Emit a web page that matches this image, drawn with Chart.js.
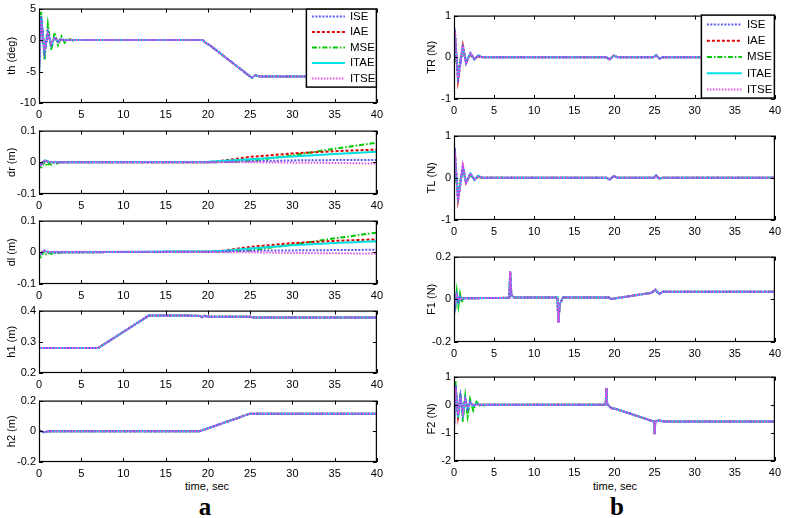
<!DOCTYPE html>
<html>
<head>
<meta charset="utf-8">
<script src="https://cdn.jsdelivr.net/npm/chart.js@4.4.0/dist/chart.umd.min.js"></script>
<style>
  body { margin: 0; background: #fff; width: 785px; height: 518px; position: relative; overflow: hidden;
         font-family: 'Liberation Sans', Arial, sans-serif; }
  canvas { position: absolute; }
  .xt { position: absolute; font-size: 11px; color: #000; transform: translate(-50%, -50%); white-space: nowrap; }
  .tag { position: absolute; font: bold 25px 'Liberation Serif', serif; color: #000; transform: translate(-50%, -50%); }
</style>
</head>
<body>
<div class="xt" style="left:207px; top:486px;">time, sec</div>
<div class="xt" style="left:615px; top:486px;">time, sec</div>
<div class="tag" style="left:205px; top:507px;">a</div>
<div class="tag" style="left:617px; top:507px;">b</div>
<script>
// ---- series names ----
const names = ['ISE', 'IAE', 'MSE', 'ITAE', 'ITSE'];

// ---- th (deg) ----
const thT0    = [0, 0.25, 0.65, 1.05, 1.45, 1.85, 2.25, 2.65, 3.05, 3.45, 4.0, 4.5];
const thISE0  = [-5.5, 3.8, -2.0, 1.3, -0.8, 0.5, -0.3, 0.2, -0.1, 0, 0, 0];
const thIAE0  = [-5.2, 3.4, -1.8, 1.1, -0.6, 0.4, -0.2, 0.1, 0, 0, 0, 0];
const thMSE0  = [-1.0, 4.5, -3.2, 2.5, -1.6, 1.2, -0.8, 0.6, -0.4, 0.3, -0.1, 0];
const thITAE0 = [-5.4, 3.7, -1.9, 1.2, -0.7, 0.4, -0.2, 0.1, 0, 0, 0, 0];
const thITSE0 = [-4.8, 3.2, -1.6, 0.9, -0.5, 0.3, -0.1, 0, 0, 0, 0, 0];
const thT1    = [19.4, 19.7, 20.3, 25.2, 25.6, 26.2, 40];
const thTail  = [0, -0.4, -0.9, -6.0, -5.6, -5.8, -5.8];

// ---- dr (m) ----
const drT0    = [0, 0.2, 0.45, 0.7, 0.95, 1.2, 1.45, 1.7, 2.0, 2.5];
const drISE0  = [0, -0.008, 0, 0.006, 0.004, 0, 0.001, 0, 0, 0];
const drIAE0  = [0, -0.007, 0, 0.005, 0.003, 0, 0.001, 0, 0, 0];
const drMSE0  = [0, -0.02, -0.01, 0.002, -0.012, -0.003, -0.008, -0.002, -0.005, 0];
const drITAE0 = [0, -0.009, -0.002, 0.006, 0.004, 0.001, 0, 0, 0, 0];
const drITSE0 = [0, -0.01, -0.004, 0.005, 0.003, 0.001, 0, 0, 0, 0];
const drT1    = [20, 22, 25, 30, 35, 40];
const drISE1  = [0, 0.001, 0.003, 0.006, 0.007, 0.007];
const drIAE1  = [0, 0.006, 0.017, 0.028, 0.035, 0.040];
const drMSE1  = [0, 0.001, 0.004, 0.022, 0.043, 0.062];
const drITAE1 = [0.002, 0.005, 0.010, 0.018, 0.026, 0.033];
const drITSE1 = [0, 0, 0, -0.001, -0.002, -0.004];

// ---- dl (m) ----
const dlT0    = [0, 0.15, 0.4, 0.65, 0.9, 1.2, 1.5, 1.8, 2.2, 2.8];
const dlISE0  = [0, -0.006, 0.002, 0.005, 0.002, 0, 0.001, 0, 0, 0];
const dlIAE0  = [0, -0.005, 0.002, 0.004, 0.002, 0, 0.001, 0, 0, 0];
const dlMSE0  = [0, -0.02, -0.006, 0.003, -0.008, -0.002, -0.005, -0.001, -0.003, 0];
const dlITAE0 = [0, -0.007, 0, 0.005, 0.002, 0, 0, 0, 0, 0];
const dlITSE0 = [0, -0.008, 0, 0.006, 0.003, 0.001, 0.001, 0.002, 0.002, 0.002];
const dlT1    = [20.5, 22, 25, 30, 35, 40];
const dlISE1  = [0.002, 0.003, 0.005, 0.006, 0.007, 0.008];
const dlIAE1  = [0.002, 0.006, 0.017, 0.029, 0.036, 0.041];
const dlMSE1  = [0.002, 0.002, 0.006, 0.024, 0.044, 0.062];
const dlITAE1 = [0.003, 0.005, 0.012, 0.022, 0.029, 0.035];
const dlITSE1 = [0.001, 0, 0, -0.002, -0.003, -0.004];

// ---- h1 (m), h2 (m): all criteria overlap ----
const h1T   = [0, 7, 13, 17.5, 19, 19.3, 19.6, 20.2, 25, 25.4, 40];
const h1Val = [0.28, 0.28, 0.384, 0.384, 0.383, 0.379, 0.383, 0.38, 0.38, 0.378, 0.378];
const h2T   = [0, 0.6, 1.2, 19, 25, 40];
const h2Val = [0.006, -0.006, 0, 0, 0.115, 0.115];

// ---- TR (N) ----
const trT0    = [0, 0.1, 0.5, 1.1, 1.5, 2.05, 2.55, 3.0, 3.6];
const trISE0  = [0, 0.7, -0.6, 0.3, -0.15, 0.1, -0.05, 0.04, 0];
const trIAE0  = [0, 0.65, -0.55, 0.28, -0.13, 0.08, -0.04, 0.02, 0];
const trMSE0  = [0, 0.1, -0.3, 0.2, -0.1, 0.05, -0.03, 0.02, 0];
const trITAE0 = [0, 0.5, -0.45, 0.22, -0.1, 0.1, -0.05, 0.05, 0];
const trITSE0 = [0, 0.6, -0.5, 0.28, -0.15, 0.1, -0.04, 0.03, 0];
const trT1    = [19.0, 19.4, 19.9, 20.4, 24.9, 25.2, 25.6, 26.0, 40];
const trTail  = [0, -0.05, 0.04, 0, 0, 0.05, -0.03, 0, 0];

// ---- TL (N) ----
const tlT0    = [0, 0.1, 0.5, 1.1, 1.5, 2.05, 2.55, 3.0, 3.6];
const tlISE0  = [0, 0.72, -0.57, 0.3, -0.12, 0.1, -0.05, 0.04, 0];
const tlIAE0  = [0, 0.65, -0.52, 0.27, -0.12, 0.08, -0.04, 0.02, 0];
const tlMSE0  = [0, 0.1, -0.3, 0.2, -0.1, 0.05, -0.03, 0.02, 0];
const tlITAE0 = [0, 0.5, -0.45, 0.22, -0.1, 0.1, -0.05, 0.05, 0];
const tlITSE0 = [0, 0.6, -0.55, 0.28, -0.12, 0.1, -0.04, 0.03, 0];
const tlT1    = [19.0, 19.4, 19.9, 20.4, 24.9, 25.2, 25.6, 26.0, 40];
const tlTail  = [0, -0.04, 0.04, 0, 0, 0.05, -0.02, 0, 0];

// ---- F1 (N) ----
const f1T0    = [0, 0.15, 0.35, 0.55, 0.75, 0.95, 1.2, 1.5, 1.8];
const f1ISE0  = [0.04, -0.03, 0.02, -0.01, 0.01, 0, 0.005, 0.005, 0.005];
const f1IAE0  = [0.035, -0.025, 0.018, -0.008, 0.01, 0.002, 0.005, 0.005, 0.005];
const f1MSE0  = [0.045, -0.05, 0.035, -0.03, 0.025, -0.015, 0.012, 0.003, 0.005];
const f1ITAE0 = [0.04, -0.03, 0.022, -0.012, 0.012, 0, 0.006, 0.005, 0.005];
const f1ITSE0 = [0.03, -0.02, 0.015, -0.005, 0.008, 0.003, 0.005, 0.005, 0.005];
const f1T1    = [6.9, 7.0, 7.15, 7.5, 12.9, 13.0, 13.2, 13.6, 19.3, 19.6, 20.0, 24.6, 25.1, 25.3, 25.6, 26.0, 40];
const f1Tail  = [0.007, 0.13, 0.02, 0.008, 0.008, -0.11, -0.02, 0.008, 0.008, 0.002, 0.004, 0.03, 0.045, 0.035, 0.025, 0.035, 0.035];

// ---- F2 (N) ----
const f2T0    = [0, 0.2, 0.5, 0.8, 1.1, 1.4, 1.7, 2.0, 2.4, 2.8, 3.3, 4.0];
const f2ISE0  = [-0.9, 0.7, -0.4, 0.3, -0.3, 0.2, -0.15, 0.1, -0.05, 0.02, 0, 0];
const f2IAE0  = [-0.85, 0.65, -0.4, 0.28, -0.3, 0.18, -0.12, 0.08, -0.03, 0.02, 0, 0];
const f2MSE0  = [-0.5, 0.85, -0.5, 0.4, -0.6, 0.3, -0.4, 0.2, -0.2, 0.1, -0.05, 0];
const f2ITAE0 = [-0.8, 0.7, -0.45, 0.3, -0.35, 0.2, -0.15, 0.1, -0.05, 0.03, 0, 0];
const f2ITSE0 = [-1.0, 0.6, -0.35, 0.25, -0.25, 0.15, -0.1, 0.05, 0, 0, 0, 0];
const f2T1    = [18.9, 19.0, 19.1, 19.6, 20.2, 24.95, 25.0, 25.1, 25.5, 25.8, 26.3, 40];
const f2Tail  = [0, 0.58, 0.02, -0.12, -0.15, -0.6, -1.05, -0.6, -0.55, -0.58, -0.6, -0.6];

// ---- line styles per criterion ----
const colors = ['#5a5af5', '#e00000', '#00c800', '#00e0e0', '#e34fe3'];
const dashes = [[2, 1.5], [3, 2], [5, 2, 1.5, 2], [], [1.5, 1.5]];
const orders = [1, 3, 4, 2, 0];   // lower = drawn on top

const FONT = "'Liberation Sans', Arial, sans-serif";

// plot layout: box = [left, top, right, bottom] of the plot area on the page
const plots = [
  {label: 'th (deg)', col: 0, box: [39, 7, 380, 103], y: [-10, 5, 5],
   t0: thT0, v0: [thISE0, thIAE0, thMSE0, thITAE0, thITSE0], t1: thT1, v1: [thTail, thTail, thTail, thTail, thTail],
   legend: {w: 71, h: 79, top: 0, lx: [6, 39], tx: 44, y0: 8, dy: 15.5}},
  {label: 'dr (m)', col: 0, box: [39, 129, 380, 194], y: [-0.1, 0.1, 0.1],
   t0: drT0, v0: [drISE0, drIAE0, drMSE0, drITAE0, drITSE0], t1: drT1, v1: [drISE1, drIAE1, drMSE1, drITAE1, drITSE1]},
  {label: 'dl (m)', col: 0, box: [39, 219, 380, 284], y: [-0.1, 0.1, 0.1],
   t0: dlT0, v0: [dlISE0, dlIAE0, dlMSE0, dlITAE0, dlITSE0], t1: dlT1, v1: [dlISE1, dlIAE1, dlMSE1, dlITAE1, dlITSE1]},
  {label: 'h1 (m)', col: 0, box: [39, 309, 380, 373], y: [0.2, 0.4, 0.1],
   t0: h1T, v0: [h1Val, h1Val, h1Val, h1Val, h1Val]},
  {label: 'h2 (m)', col: 0, box: [39, 399, 380, 462], y: [-0.2, 0.2, 0.2],
   t0: h2T, v0: [h2Val, h2Val, h2Val, h2Val, h2Val]},
  {label: 'TR (N)', col: 1, box: [454, 14, 778, 99], y: [-1, 1, 1],
   t0: trT0, v0: [trISE0, trIAE0, trMSE0, trITAE0, trITSE0], t1: trT1, v1: [trTail, trTail, trTail, trTail, trTail],
   legend: {w: 74, h: 84, top: -1, lx: [6, 41], tx: 46, y0: 10, dy: 16.25}},
  {label: 'TL (N)', col: 1, box: [454, 134, 778, 220], y: [-1, 1, 1],
   t0: tlT0, v0: [tlISE0, tlIAE0, tlMSE0, tlITAE0, tlITSE0], t1: tlT1, v1: [tlTail, tlTail, tlTail, tlTail, tlTail]},
  {label: 'F1 (N)', col: 1, box: [454, 255, 778, 342], y: [-0.2, 0.2, 0.2],
   t0: f1T0, v0: [f1ISE0, f1IAE0, f1MSE0, f1ITAE0, f1ITSE0], t1: f1T1, v1: [f1Tail, f1Tail, f1Tail, f1Tail, f1Tail]},
  {label: 'F2 (N)', col: 1, box: [454, 375, 778, 461], y: [-2, 1, 1],
   t0: f2T0, v0: [f2ISE0, f2IAE0, f2MSE0, f2ITAE0, f2ITSE0], t1: f2T1, v1: [f2Tail, f2Tail, f2Tail, f2Tail, f2Tail]}
];

function xy(t, v) {
  return t.map((x, i) => ({x: x, y: v[i]}));
}

// box with inward ticks (matlab style) + legend inside the plot
const framePlugin = {
  id: 'frame',
  afterDraw(chart, args, opts) {
    const {ctx, chartArea: a, scales: {x, y}} = chart;
    ctx.save();
    ctx.strokeStyle = '#000';
    ctx.lineWidth = 1.2;
    ctx.strokeRect(a.left + 0.5, a.top + 0.5, a.right - a.left - 1, a.bottom - a.top - 1);
    ctx.lineWidth = 1;
    ctx.beginPath();
    x.ticks.forEach(tk => {
      const px = Math.round(x.getPixelForValue(tk.value)) + 0.5;
      ctx.moveTo(px, a.bottom); ctx.lineTo(px, a.bottom - 4);
      ctx.moveTo(px, a.top); ctx.lineTo(px, a.top + 4);
    });
    y.ticks.forEach(tk => {
      const py = Math.round(y.getPixelForValue(tk.value)) + 0.5;
      ctx.moveTo(a.left, py); ctx.lineTo(a.left + 4, py);
      ctx.moveTo(a.right, py); ctx.lineTo(a.right - 4, py);
    });
    ctx.stroke();

    const L = opts.legend;
    if (L) {
      const bx = a.right - L.w, by = a.top + L.top;
      ctx.fillStyle = '#fff';
      ctx.fillRect(bx, by, L.w, L.h);
      ctx.lineWidth = 1.5;
      ctx.strokeRect(bx + 0.5, by + 0.5, L.w - 1, L.h - 1);
      ctx.font = '11.5px ' + FONT;
      ctx.textBaseline = 'middle';
      chart.data.datasets.forEach((ds, i) => {
        const yy = by + L.y0 + i * L.dy;
        ctx.beginPath();
        ctx.setLineDash(ds.borderDash);
        ctx.strokeStyle = ds.borderColor;
        ctx.lineWidth = ds.borderWidth;
        ctx.moveTo(bx + L.lx[0], yy);
        ctx.lineTo(bx + L.lx[1], yy);
        ctx.stroke();
        ctx.setLineDash([]);
        ctx.fillStyle = '#000';
        ctx.fillText(ds.label, bx + L.tx, yy);
      });
    }
    ctx.restore();
  }
};

plots.forEach(p => {
  const [l, t, r, b] = p.box;
  const aw = p.col === 0 ? l : l - 400;      // width of the y-axis band
  const left = l - aw;
  const cv = document.createElement('canvas');
  cv.width = r - left + 8;
  cv.height = b - t + 8 + 22;
  cv.style.left = left + 'px';
  cv.style.top = (t - 8) + 'px';
  document.body.appendChild(cv);

  const datasets = names.map((n, i) => {
    let data = xy(p.t0, p.v0[i]);
    if (p.t1) data = data.concat(xy(p.t1, p.v1[i]));
    return {
      label: n,
      data: data,
      borderColor: colors[i],
      borderDash: dashes[i],
      borderWidth: 2,
      pointRadius: 0,
      tension: 0,
      fill: false,
      order: orders[i]
    };
  });

  new Chart(cv, {
    type: 'line',
    data: {datasets: datasets},
    options: {
      responsive: false,
      animation: false,
      layout: {padding: {top: 8, right: 8, left: 0, bottom: 0}},
      scales: {
        x: {
          type: 'linear', min: 0, max: 40,
          ticks: {stepSize: 5, color: '#000', padding: 5, maxRotation: 0, font: {family: FONT, size: 11}},
          grid: {display: false, drawTicks: false},
          border: {display: false},
          afterFit: s => { s.height = 22; }
        },
        y: {
          type: 'linear', min: p.y[0], max: p.y[1],
          ticks: {stepSize: p.y[2], color: '#000', padding: 3, font: {family: FONT, size: 11},
                  callback: v => String(+v.toFixed(2))},
          grid: {display: false, drawTicks: false},
          border: {display: false},
          title: {display: true, text: p.label, color: '#000', font: {family: FONT, size: 11},
                  padding: {top: p.col === 0 ? 5 : 25, bottom: 0}},
          afterFit: s => { s.width = aw; }
        }
      },
      plugins: {
        legend: {display: false},
        tooltip: {enabled: false},
        frame: {legend: p.legend}
      }
    },
    plugins: [framePlugin]
  });
});
</script>
</body>
</html>
